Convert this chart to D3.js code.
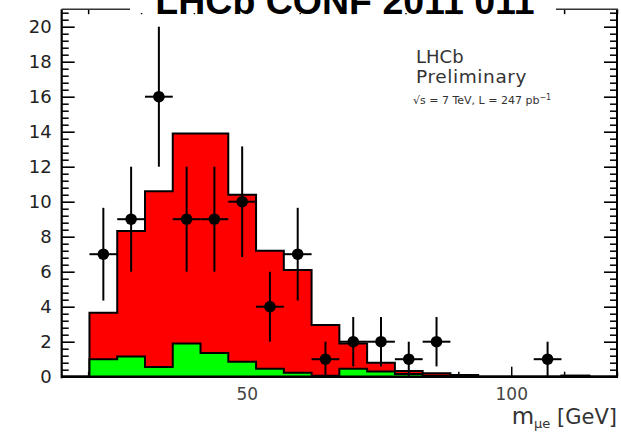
<!DOCTYPE html>
<html>
<head>
<meta charset="utf-8">
<script src="https://cdn.jsdelivr.net/npm/d3@7"></script>
<style>
  body { margin: 0; background: #fff; }
  svg { display: block; }
</style>
</head>
<body>
<svg id="chart" width="621" height="432"></svg>
<script>
// Histogram binning: 20 bins of 5.25 GeV between 15 and 120 GeV
const binEdges = [15, 20.25, 25.5, 30.75, 36, 41.25, 46.5, 51.75, 57, 62.25, 67.5,
                  72.75, 78, 83.25, 88.5, 93.75, 99, 104.25, 109.5, 114.75, 120];

// Stacked expectation: total (red) and the lower component (green)
const totalExpected = [0, 3.65, 8.33, 10.6, 13.9, 13.9, 10.4, 7.2, 6.1, 2.95,
                       1.9, 0.8, 0.33, 0.2, 0.1, 0, 0, 0, 0.06, 0];
const greenComponent = [0, 1.0, 1.15, 0.55, 1.9, 1.35, 0.85, 0.45, 0.22, 0.06,
                        0.45, 0.3, 0.15, 0.05, 0, 0, 0, 0, 0.06, 0];

// Observed candidates per bin and their uncertainties
const observed = [0, 7, 9, 16, 9, 9, 10, 4, 7, 1, 2, 2, 1, 2, 0, 0, 0, 1, 0, 0];
const observedErr = [0, 2.65, 3, 4, 3, 3, 3.16, 2, 2.65, 1, 1.41, 1.41, 1, 1.41, 0, 0, 0, 1, 0, 0];

// Axis ticks
const yMajorTicks = [0, 2, 4, 6, 8, 10, 12, 14, 16, 18, 20];
const xMajorTicks = [50, 100];
const xMinorTicks = [20, 30, 40, 60, 70, 80, 90, 110, 120];

const svg = d3.select("#chart");
const plot = { left: 61.7, right: 617, top: 9.2, bottom: 376.7 };

const x = d3.scaleLinear().domain([15, 120]).range([plot.left, plot.right]);
const y = d3.scaleLinear().domain([0, 21]).range([plot.bottom, plot.top]);

const yMinorTicks = d3.range(0, 21.01, 0.4).map(v => +v.toFixed(1))
  .filter(v => !yMajorTicks.includes(v));

// ---- ticks (drawn beneath the histograms) ----
function styleTicks(g, width) {
  g.select(".domain").remove();
  g.selectAll(".tick line").attr("stroke", "#000").attr("stroke-width", width);
}

svg.append("g").attr("transform", `translate(${plot.left},0)`)
  .call(d3.axisLeft(y).tickValues(yMajorTicks).tickSize(-13).tickPadding(10)
    .tickFormat(d3.format("d")))
  .call(g => styleTicks(g, 1.6))
  .call(g => g.selectAll("text")
    .attr("font-family", "DejaVu Sans, sans-serif")
    .attr("font-size", 18).attr("fill", "#222"));

svg.append("g").attr("transform", `translate(${plot.left},0)`)
  .call(d3.axisLeft(y).tickValues(yMinorTicks).tickSize(-7).tickFormat(""))
  .call(g => styleTicks(g, 1.5));

svg.append("g").attr("transform", `translate(${plot.right},0)`)
  .call(d3.axisRight(y).tickValues(yMajorTicks).tickSize(-13).tickFormat(""))
  .call(g => styleTicks(g, 1.6));

svg.append("g").attr("transform", `translate(${plot.right},0)`)
  .call(d3.axisRight(y).tickValues(yMinorTicks).tickSize(-7).tickFormat(""))
  .call(g => styleTicks(g, 1.5));

svg.append("g").attr("transform", `translate(0,${plot.bottom})`)
  .call(d3.axisBottom(x).tickValues(xMajorTicks).tickSize(-10).tickPadding(11)
    .tickFormat(d3.format("d")))
  .call(g => styleTicks(g, 1.5))
  .call(g => g.selectAll("text")
    .attr("font-family", "DejaVu Sans, sans-serif")
    .attr("font-size", 17).attr("fill", "#444"));

svg.append("g").attr("transform", `translate(0,${plot.bottom})`)
  .call(d3.axisBottom(x).tickValues(xMinorTicks).tickSize(-5).tickFormat(""))
  .call(g => styleTicks(g, 1.5));

svg.append("g").attr("transform", `translate(0,${plot.top})`)
  .call(d3.axisTop(x).tickValues(xMinorTicks.concat(xMajorTicks)).tickSize(-5).tickFormat(""))
  .call(g => styleTicks(g, 1.5));

// ---- stacked histograms ----
function stepPoints(values) {
  const pts = [[binEdges[0], 0]];
  values.forEach((v, i) => {
    pts.push([binEdges[i], v]);
    pts.push([binEdges[i + 1], v]);
  });
  pts.push([binEdges[binEdges.length - 1], 0]);
  return pts;
}

const area = d3.area().x(d => x(d[0])).y0(y(0)).y1(d => y(d[1]));
const line = d3.line().x(d => x(d[0])).y(d => y(d[1]));

[[totalExpected, "#ff0000"], [greenComponent, "#00ff00"]].forEach(([vals, color]) => {
  const pts = stepPoints(vals);
  svg.append("path").attr("d", area(pts)).attr("fill", color);
  svg.append("path").attr("d", line(pts))
    .attr("fill", "none").attr("stroke", "#000").attr("stroke-width", 2)
    .attr("stroke-linejoin", "miter");
});

// ---- frame ----
const frame = svg.append("g").attr("stroke", "#000").attr("fill", "none");
frame.append("line").attr("x1", plot.left).attr("x2", plot.left)
  .attr("y1", plot.top).attr("y2", plot.bottom + 1.5).attr("stroke-width", 2.2);
frame.append("line").attr("x1", plot.left).attr("x2", plot.right + 1)
  .attr("y1", plot.bottom).attr("y2", plot.bottom).attr("stroke-width", 2.6);
frame.append("line").attr("x1", plot.right).attr("x2", plot.right)
  .attr("y1", plot.top).attr("y2", plot.bottom).attr("stroke-width", 2);
frame.append("line").attr("x1", plot.left).attr("x2", plot.right + 1)
  .attr("y1", plot.top).attr("y2", plot.top).attr("stroke-width", 1.6).attr("stroke", "#333");

// ---- observed data with error bars ----
const dataPts = observed.map((n, i) => ({
  n, err: observedErr[i], lo: binEdges[i], hi: binEdges[i + 1],
  c: (binEdges[i] + binEdges[i + 1]) / 2
})).filter(d => d.n > 0);

const pts = svg.append("g");
pts.selectAll("line.v").data(dataPts).join("line")
  .attr("x1", d => x(d.c)).attr("x2", d => x(d.c))
  .attr("y1", d => y(d.n + d.err)).attr("y2", d => y(Math.max(0, d.n - d.err)))
  .attr("stroke", "#000").attr("stroke-width", 2);
pts.selectAll("line.h").data(dataPts).join("line")
  .attr("x1", d => x(d.lo)).attr("x2", d => x(d.hi))
  .attr("y1", d => y(d.n)).attr("y2", d => y(d.n))
  .attr("stroke", "#000").attr("stroke-width", 2);
pts.selectAll("circle").data(dataPts).join("circle")
  .attr("cx", d => x(d.c)).attr("cy", d => y(d.n)).attr("r", 5.8)
  .attr("fill", "#000");

// ---- labels ----
const label = svg.append("g").attr("font-family", "DejaVu Sans, sans-serif").attr("fill", "#333");
label.append("text").attr("x", 416).attr("y", 63).attr("font-size", 18).text("LHCb");
label.append("text").attr("x", 416).attr("y", 83).attr("font-size", 18.5)
  .attr("letter-spacing", 0.6).text("Preliminary");
const lumi = label.append("text").attr("x", 413).attr("y", 104).attr("font-size", 11);
lumi.append("tspan").text("√s = 7 TeV, L = 247 pb");
lumi.append("tspan").attr("dy", -4).attr("font-size", 8).text("−1");

const xTitle = svg.append("text").attr("font-family", "DejaVu Sans, sans-serif")
  .attr("font-size", 21).attr("fill", "#333")
  .attr("text-anchor", "end").attr("x", 617).attr("y", 424);
xTitle.append("tspan").attr("font-size", 23).text("m");
xTitle.append("tspan").attr("font-size", 13).attr("dy", 4).text("μe");
xTitle.append("tspan").attr("dy", -4).text(" [GeV]");

// ---- title box over the top frame ----
svg.append("rect").attr("x", 130).attr("y", 0).attr("width", 426).attr("height", 13).attr("fill", "#fff");
svg.append("text").attr("x", 345).attr("y", 14).attr("text-anchor", "middle")
  .attr("font-family", "Liberation Sans, Arial, sans-serif").attr("font-weight", "bold")
  .attr("font-size", 37.5).attr("fill", "#000").text("LHCb CONF 2011 011");
</script>
</body>
</html>
